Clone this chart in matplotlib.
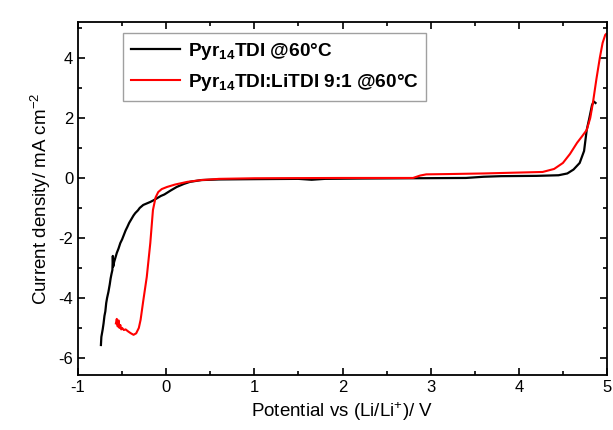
import numpy as np
import matplotlib
matplotlib.use("Agg")
import matplotlib.pyplot as plt
from matplotlib.ticker import MultipleLocator

plt.rcParams['font.family'] = ['Liberation Sans', 'DejaVu Sans']
plt.rcParams['mathtext.fontset'] = 'custom'
plt.rcParams['mathtext.rm'] = 'Liberation Sans'
plt.rcParams['mathtext.bf'] = 'Liberation Sans:bold'
plt.rcParams['mathtext.default'] = 'regular'
plt.rcParams['axes.unicode_minus'] = False

# Pyr14TDI @60C (black)
pyr_x = [-0.74, -0.735, -0.72, -0.71, -0.70, -0.69, -0.68, -0.67, -0.655, -0.64,
         -0.63, -0.62, -0.61, -0.605, -0.60, -0.59, -0.58, -0.56, -0.54, -0.52,
         -0.50, -0.48, -0.46, -0.44, -0.42, -0.40, -0.37, -0.35, -0.32, -0.30,
         -0.26, -0.22, -0.18, -0.14, -0.10, -0.06, -0.02, 0.05, 0.12, 0.20,
         0.27, 0.40, 0.60, 1.0, 1.5, 1.65, 1.8, 2.2, 2.8, 3.4, 3.6, 3.8, 4.2,
         4.45, 4.55, 4.62, 4.69, 4.74, 4.77, 4.80, 4.83, 4.85, 4.87]
pyr_y = [-5.57, -5.3, -5.05, -4.85, -4.6, -4.45, -4.17, -4.0, -3.8, -3.55,
         -3.35, -3.2, -3.07, -2.6, -2.95, -2.8, -2.7, -2.5, -2.35, -2.17,
         -2.05, -1.9, -1.75, -1.63, -1.5, -1.4, -1.25, -1.17, -1.08, -1.0,
         -0.9, -0.85, -0.8, -0.74, -0.67, -0.6, -0.55, -0.42, -0.3, -0.2,
         -0.13, -0.07, -0.05, -0.04, -0.03, -0.06, -0.03, -0.02, -0.01, 0.0,
         0.04, 0.06, 0.07, 0.09, 0.15, 0.28, 0.5, 0.9, 1.6, 2.0, 2.43, 2.55,
         2.5]

# Pyr14TDI:LiTDI 9:1 @60C (red)
li_x = [-0.57, -0.56, -0.55, -0.54, -0.53, -0.52, -0.51, -0.50, -0.48, -0.46,
        -0.43, -0.40, -0.37, -0.34, -0.31, -0.29, -0.26, -0.22, -0.18, -0.15,
        -0.12, -0.09, -0.05, 0.01, 0.10, 0.24, 0.40, 0.60, 1.0, 2.0, 2.8,
        2.88, 2.95, 3.2, 3.6, 4.0, 4.27, 4.40, 4.50, 4.58, 4.66, 4.72, 4.77,
        4.81, 4.84, 4.88, 4.92, 4.95, 4.98, 4.99]
li_y = [-4.85, -4.7, -4.95, -4.75, -5.0, -4.9, -5.05, -5.0, -5.07, -5.05,
        -5.12, -5.18, -5.23, -5.18, -5.0, -4.73, -4.1, -3.3, -2.17, -1.07,
        -0.65, -0.47, -0.37, -0.3, -0.22, -0.13, -0.07, -0.03, -0.01, 0.0, 0.0,
        0.08, 0.12, 0.13, 0.15, 0.18, 0.2, 0.3, 0.5, 0.8, 1.17, 1.4, 1.6,
        2.0, 2.5, 3.3, 4.03, 4.5, 4.77, 4.8]

labels = [r'Pyr$_{\mathbf{14}}$TDI @60°C', r'Pyr$_{\mathbf{14}}$TDI:LiTDI 9:1 @60°C']

fig = plt.figure(figsize=(6.13, 4.30), dpi=100)
ax = fig.add_axes([78 / 613, 1 - 375 / 430, (607 - 78) / 613, (375 - 22) / 430])

ax.plot(pyr_x, pyr_y, color='black', lw=1.6, label=labels[0])
ax.plot(li_x, li_y, color='red', lw=1.5, label=labels[1])

ax.set_xlim(-1, 5)
ax.set_ylim(-6.57, 5.2)
ax.xaxis.set_major_locator(MultipleLocator(1))
ax.xaxis.set_minor_locator(MultipleLocator(0.5))
ax.yaxis.set_major_locator(MultipleLocator(2))
ax.yaxis.set_minor_locator(MultipleLocator(1))
ax.tick_params(which='both', direction='in', top=True, right=True, width=1.2, labelsize=12)
ax.tick_params(which='major', length=5)
ax.tick_params(which='minor', length=3)
for s in ax.spines.values():
    s.set_linewidth(1.3)

ax.set_xlabel(r'Potential vs (Li/Li$^{+}$)/ V', fontsize=13.5)
ax.set_ylabel(r'Current density/ mA cm$^{-2}$', fontsize=13.5)

leg = ax.legend(loc='upper left', bbox_to_anchor=((123 - 78) / 529, 1 - (33 - 22) / 353),
                prop={'weight': 'bold', 'size': 13.7}, frameon=True, fancybox=False,
                edgecolor='#888888', borderpad=0.4, handlelength=2.6, handletextpad=0.4,
                borderaxespad=0, labelspacing=0.55)
leg.get_frame().set_linewidth(1.0)

fig.savefig('out.png', dpi=100)
